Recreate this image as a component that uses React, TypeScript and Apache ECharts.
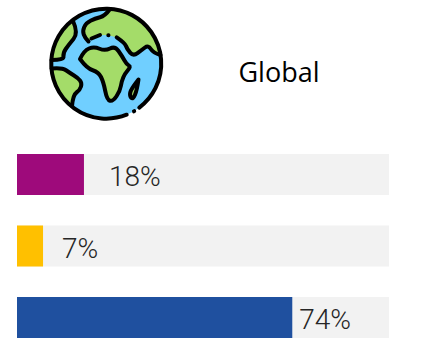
import React, { useEffect, useRef } from "react";
import * as echarts from "echarts";

const categories = ["Top", "Middle", "Bottom"];
const values = [18, 7, 74];
const barColors = ["#9E0A7B", "#FFC000", "#1F509F"];
const labelGaps = [25, 19, 7];
const title = "Global";
const FONT = "'Open Sans', 'Noto Sans', sans-serif";
const LABEL_FONT = "Roboto, 'Open Sans', sans-serif";

type P = [number, number];
function smooth(pts: P[], move = true): string {
  let d = move ? `M${pts[0][0]} ${pts[0][1]}` : `L${pts[0][0]} ${pts[0][1]}`;
  if (pts.length === 2) return d + ` L${pts[1][0]} ${pts[1][1]}`;
  for (let i = 1; i < pts.length - 1; i++) {
    const [x, y] = pts[i];
    const [nx, ny] = pts[i + 1];
    const last = i === pts.length - 2;
    const mx = last ? nx : (x + nx) / 2;
    const my = last ? ny : (y + ny) / 2;
    d += ` Q${x} ${y} ${mx} ${my}`;
  }
  return d;
}
const R = 55;
const arc = (x: number, y: number, sweep: number, large = 0) => ` A${R} ${R} 0 ${large} ${sweep} ${x} ${y}`;

const eurA: P[] = [[110, 9], [105, 16], [95, 18.5], [86, 23], [82.5, 31], [85, 38], [88.5, 41.5]];
const eurB: P[] = [[91.5, 38.5], [100, 35]];
const eurC: P[] = [[116.7, 37.3], [125, 43], [127, 49], [133.3, 56.3], [141.7, 50], [148.3, 45], [153.3, 53], [160.5, 55]];
const naPts: P[] = [[73, 21], [78.5, 33], [68.5, 45], [63, 53], [64, 60], [51.6, 60]];
const saPts: P[] = [[51.6, 68.5], [62, 67.5], [70, 73], [78, 78], [82, 83], [80, 90], [73, 95], [72, 106]];
const afPts: P[] = [[80, 59], [84, 50.5], [94, 46.5], [105, 51], [115, 46], [122, 56], [126.7, 64.5], [131, 66.5], [125, 73.5], [121.7, 81], [120, 91], [113, 101.5], [107, 100], [103.5, 82], [98.5, 72], [87, 68.5], [80, 59]];
const mgPts: P[] = [[138.5, 79.5], [131, 89], [129.5, 96], [133, 99.5], [137, 90], [138.5, 79.5]];

const shapes: Record<string, string> = {
  ocean: `M51.5 63.5 A55 55 0 1 1 161.5 63.5 A55 55 0 1 1 51.5 63.5 Z`,
  eurFill: smooth(eurA) + " " + smooth(eurB, false) + " L108 35.3 " + smooth(eurC, false) + arc(110, 9, 0) + " Z",
  eurLine: smooth(eurA) + " " + smooth(eurB) + " M108.3 35.3 L108.5 35.3 " + smooth(eurC),
  na: smooth(naPts) + arc(73, 21, 1) + " Z",
  naLine: smooth(naPts),
  sa: smooth(saPts) + arc(51.6, 68.5, 1) + " Z",
  saLine: smooth(saPts),
  africa: smooth(afPts) + " Z",
  mg: smooth(mgPts) + " Z",
  rim: `M126.7 114.7` + arc(139.3, 107.6, 1, 1) + " M134 111.3 L134.2 111.2",
};
Object.keys(shapes).forEach((k) => {
  echarts.graphic.registerShape(k, echarts.graphic.extendPath(shapes[k] as any, {}) as any);
});

const OCEAN = "#70CFFF";
const LAND = "#A4DC69";
const INK = "#000000";

export default function App() {
  const ref = useRef<HTMLDivElement>(null);
  useEffect(() => {
    const chart = echarts.init(ref.current!, null, { renderer: "svg" });
    const fill = (type: string, color: string) => ({ type, style: { fill: color, stroke: "none" } });
    const line = (type: string) => ({
      type,
      style: { fill: "none", stroke: INK, lineWidth: 4, lineJoin: "round", lineCap: "round" },
    });
    const both = (type: string, color: string) => ({
      type,
      style: { fill: color, stroke: INK, lineWidth: 4, lineJoin: "round", lineCap: "round" },
    });
    chart.setOption({
      animation: false,
      backgroundColor: "#ffffff",
      grid: { left: 17, top: 174.5, width: 372, height: 143 },
      xAxis: { type: "value", min: 0, max: 100, show: false },
      yAxis: { type: "category", inverse: true, boundaryGap: false, data: categories, show: false },
      series: [
        {
          type: "bar",
          clip: false,
          barWidth: 41,
          showBackground: true,
          backgroundStyle: { color: "#F2F2F2" },
          data: values.map((v, i) => ({
            value: v,
            itemStyle: { color: barColors[i] },
            label: { distance: labelGaps[i] },
          })),
          label: {
            show: true,
            position: "right",
            offset: [0, 2],
            formatter: "{c}%",
            fontFamily: LABEL_FONT,
            fontWeight: 300,
            fontSize: 28,
            color: "#262626",
          },
        },
      ],
      graphic: [
        fill("ocean", OCEAN),
        fill("eurFill", LAND),
        fill("na", LAND),
        fill("sa", LAND),
        both("africa", LAND),
        both("mg", LAND),
        line("eurLine"),
        line("naLine"),
        line("saLine"),
        line("rim"),
        {
          type: "text",
          x: 279,
          y: 71,
          style: {
            text: title,
            fontFamily: FONT,
            fontSize: 27,
            fontWeight: 400,
            fill: "#000000",
            align: "center",
            verticalAlign: "middle",
          },
        },
      ],
    });
    return () => chart.dispose();
  }, []);
  return <div ref={ref} style={{ position: "absolute", left: 0, top: 0, width: 428, height: 338 }} />;
}
